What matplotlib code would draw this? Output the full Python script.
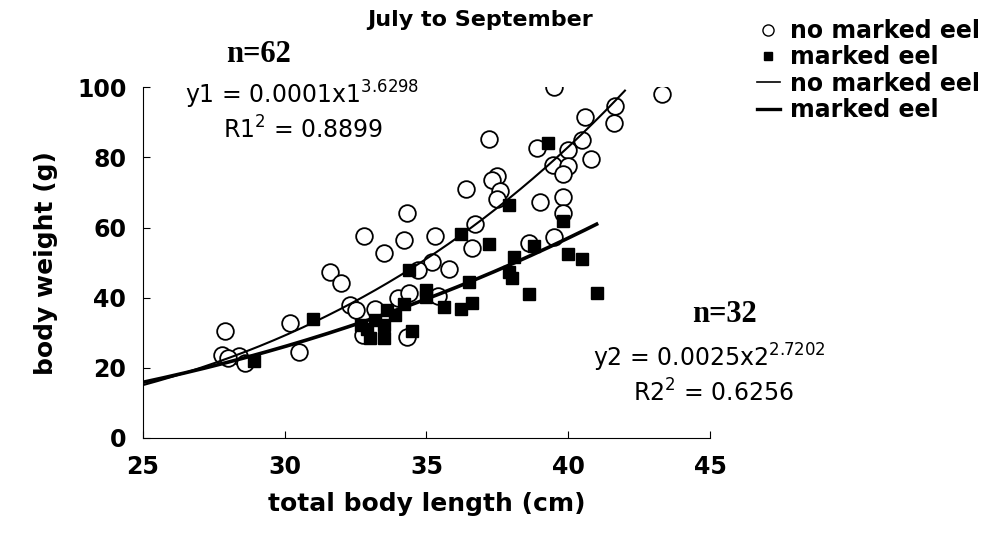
import numpy as np
import matplotlib

matplotlib.use('Agg')
import matplotlib.pyplot as plt
from matplotlib.lines import Line2D

# no marked eel (open circles)
nomark_len = [39.5, 43.3, 41.65, 41.6, 40.6, 37.2, 40.5, 38.9, 40.0, 40.8,
              39.45, 40.0, 39.8, 37.5, 37.3, 37.6, 36.4, 37.5, 39.0, 39.8,
              39.8, 36.7, 39.5, 35.3, 36.6, 38.6, 34.3, 32.8, 34.2, 33.5,
              35.2, 35.8, 31.6, 32.0, 34.7, 32.3, 32.5, 33.2, 34.0, 34.4,
              35.4, 30.2, 27.9, 27.8, 28.4, 28.0, 28.6, 30.5, 32.75, 34.3]
nomark_wt = [100.0, 98.0, 94.6, 89.9, 91.4, 85.2, 84.9, 82.8, 82.0, 79.5,
             77.8, 77.5, 75.2, 74.6, 73.5, 70.5, 70.9, 68.0, 67.2, 68.8,
             64.2, 61.0, 57.2, 57.6, 54.3, 55.5, 64.2, 57.5, 56.5, 52.8,
             50.3, 48.1, 47.4, 44.1, 47.9, 37.9, 36.5, 36.8, 40.0, 41.4,
             40.5, 32.7, 30.5, 23.6, 23.4, 22.7, 21.3, 24.4, 29.3, 28.7]

# marked eel (filled squares)
mark_len = [39.3, 37.9, 39.8, 36.2, 37.2, 38.8, 38.1, 40.0, 40.5, 36.5,
            37.9, 38.0, 38.6, 41.0, 36.6, 36.2, 35.6, 34.4, 31.0, 28.9,
            35.0, 35.0, 34.2, 33.6, 32.7, 33.2, 33.5, 33.0, 33.5, 34.5,
            33.9, 32.9]
mark_wt = [84.1, 66.4, 61.9, 58.1, 55.3, 54.8, 51.7, 52.4, 50.9, 44.5,
           47.4, 45.5, 41.0, 41.4, 38.4, 36.8, 37.2, 47.9, 33.8, 22.0,
           42.3, 40.3, 38.2, 36.5, 32.2, 33.6, 32.2, 28.4, 28.4, 30.6,
           35.0, 31.0]

# power trend lines y = a * x^b (as drawn)
a1, b1, end1 = 0.000127, 3.6298, 42.0
a2, b2, end2 = 0.0025, 2.7202, 41.0

xticks = [25, 30, 35, 40, 45]
yticks = [0, 20, 40, 60, 80, 100]

plt.rcParams['font.family'] = ['DejaVu Sans']
plt.rcParams['mathtext.default'] = 'regular'

fig = plt.figure(figsize=(9.93, 5.42), dpi=100)
ax = fig.add_axes([0.144, 0.192, 0.571, 0.647])

x1 = np.linspace(25, end1, 200)
x2 = np.linspace(25, end2, 200)
ax.plot(x1, a1 * x1 ** b1, color='black', lw=1.5, zorder=3)
ax.plot(x2, a2 * x2 ** b2, color='black', lw=2.6, zorder=3)

ax.plot(nomark_len, nomark_wt, 'o', ms=12, mfc='white', mec='black', mew=1.3, zorder=2)
ax.plot(mark_len, mark_wt, 's', ms=8.5, mfc='black', mec='black', zorder=4)

ax.set_xlim(25, 45)
ax.set_ylim(0, 100)
ax.set_xticks(xticks)
ax.set_yticks(yticks)
ax.tick_params(direction='in', length=5, labelsize=17, pad=12)
for lab in ax.get_xticklabels() + ax.get_yticklabels():
    lab.set_fontweight('bold')
ax.spines['top'].set_visible(False)
ax.spines['right'].set_visible(False)

ax.set_xlabel('total body length (cm)', fontsize=18, fontweight='bold', labelpad=10)
ax.set_ylabel('body weight (g)', fontsize=18, fontweight='bold', labelpad=14)

fig.text(0.370, 0.963, 'July to September', fontsize=16, fontweight='bold', ha='left', va='center')
fig.text(0.260, 0.899, 'n=62', fontsize=22, fontweight='bold', family='Liberation Serif',
         ha='center', va='center')
fig.text(0.186, 0.825, 'y1 = 0.0001x1$^{3.6298}$', fontsize=17, ha='left', va='center')
fig.text(0.225, 0.760, 'R1$^{2}$ = 0.8899', fontsize=17, ha='left', va='center')
fig.text(0.730, 0.419, 'n=32', fontsize=22, fontweight='bold', family='Liberation Serif',
         ha='center', va='center')
fig.text(0.597, 0.339, 'y2 = 0.0025x2$^{2.7202}$', fontsize=17, ha='left', va='center')
fig.text(0.637, 0.275, 'R2$^{2}$ = 0.6256', fontsize=17, ha='left', va='center')

handles = [
    Line2D([], [], ls='none', marker='o', ms=8, mfc='white', mec='black'),
    Line2D([], [], ls='none', marker='s', ms=6, mfc='black', mec='black'),
    Line2D([], [], color='black', lw=1.2),
    Line2D([], [], color='black', lw=2.4),
]
labels = ['no marked eel', 'marked eel', 'no marked eel', 'marked eel']
leg = fig.legend(handles, labels, loc='upper left', bbox_to_anchor=(0.762, 0.965),
                 frameon=False, fontsize=17, handlelength=1.0, handletextpad=0.4,
                 labelspacing=0.1, borderaxespad=0, borderpad=0)
for t in leg.get_texts():
    t.set_fontweight('bold')

fig.savefig('out.png', dpi=100)
